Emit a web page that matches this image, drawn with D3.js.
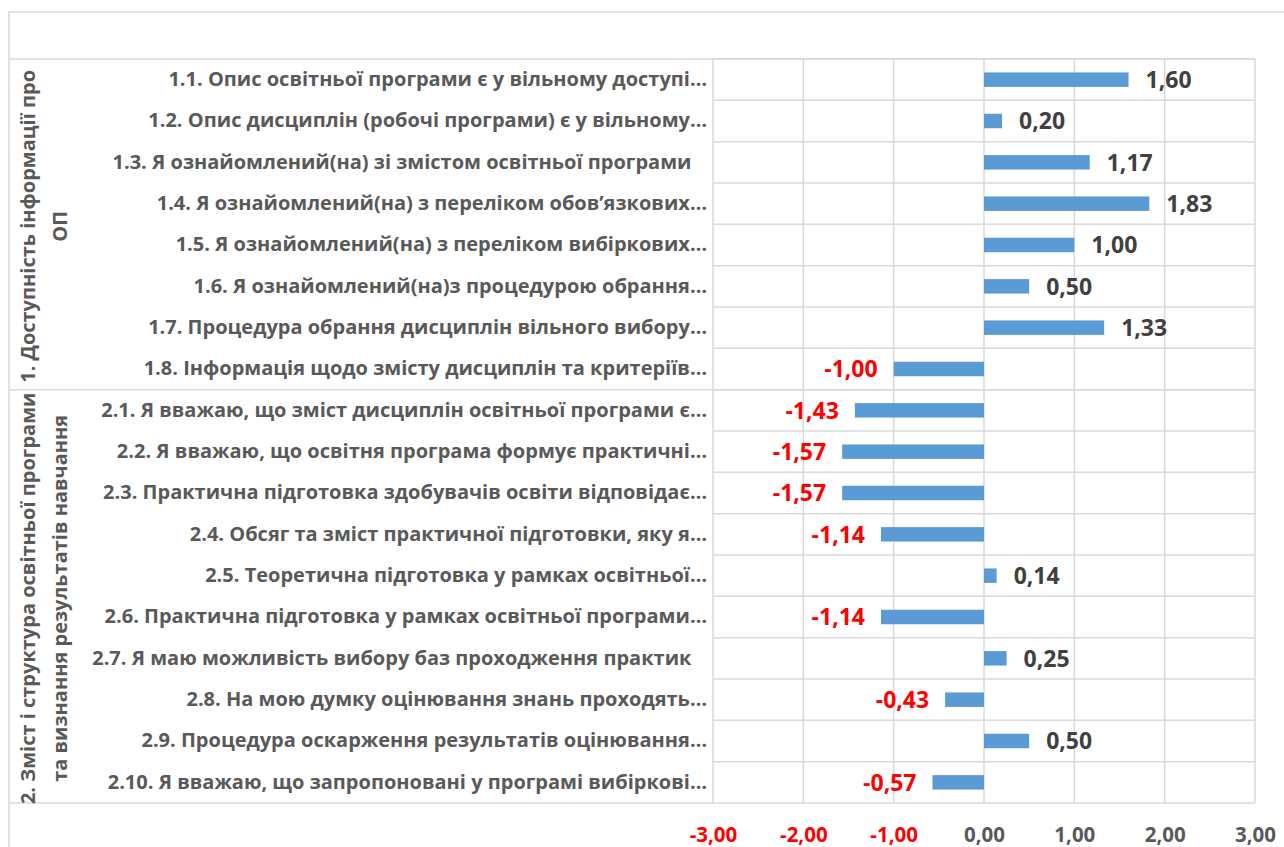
<!DOCTYPE html>
<html>
<head>
<meta charset="utf-8">
<script src="https://cdn.jsdelivr.net/npm/d3@7"></script>
<style>
  body { margin: 0; background: #fff; }
  text { font-family: "Open Sans", sans-serif; font-weight: bold; }
</style>
</head>
<body>
<div id="chart"></div>
<script>
// Category labels (as truncated in the picture)
const categories = [
  "1.1. Опис освітньої програми є у вільному доступі…",
  "1.2. Опис дисциплін (робочі програми) є у вільному…",
  "1.3. Я ознайомлений(на) зі змістом освітньої програми   ",
  "1.4. Я ознайомлений(на) з переліком обов’язкових…",
  "1.5. Я ознайомлений(на) з переліком вибіркових…",
  "1.6. Я ознайомлений(на)з процедурою обрання…",
  "1.7. Процедура обрання дисциплін вільного вибору…",
  "1.8. Інформація щодо змісту дисциплін та критеріїв…",
  "2.1. Я вважаю, що зміст дисциплін освітньої програми є…",
  "2.2. Я вважаю, що освітня програма формує практичні…",
  "2.3. Практична підготовка здобувачів освіти відповідає…",
  "2.4. Обсяг та зміст практичної підготовки, яку я…",
  "2.5. Теоретична підготовка у рамках освітньої…",
  "2.6. Практична підготовка у рамках освітньої програми…",
  "2.7. Я маю можливість вибору баз проходження практик   ",
  "2.8. На мою думку оцінювання знань проходять…",
  "2.9. Процедура оскарження результатів оцінювання…",
  "2.10. Я вважаю, що запропоновані у програмі вибіркові…"
]

const values = [1.60, 0.20, 1.17, 1.83, 1.00, 0.50, 1.33, -1.00,
  -1.43, -1.57, -1.57, -1.14, 0.14, -1.14, 0.25, -0.43, 0.50, -0.57]

// Outer category level
const groupNames = [
  ["1. Доступність інформації про", "ОП"],
  ["2. Зміст і структура освітньої програми", "та визнання результатів навчання"]
]
const groupSizes = [8, 10]

const ticks = [-3, -2, -1, 0, 1, 2, 3]

const W = 1284, H = 847
const plot = { left: 713, right: 1255, top: 59, bottom: 803 }
const frame = { left: 9, top: 12 }

const fmt = v => (v < 0 ? "-" : "") + Math.abs(v).toFixed(2).replace(".", ",")

const svg = d3.select("#chart").append("svg")
    .attr("width", W)
    .attr("height", H)

const x = d3.scaleLinear()
  .domain([-3, 3])
  .range([plot.left, plot.right])

const y = d3.scaleBand()
  .domain(categories)
  .range([plot.top, plot.bottom])
  .paddingInner(0.65)
  .paddingOuter(0.325)

const grid = "#d9d9d9"

// chart frame (cropped on right and bottom)
svg.append("path")
  .attr("d", `M${frame.left},${H} V${frame.top} H${W}`)
  .attr("fill", "none")
  .attr("stroke", grid)
  .attr("stroke-width", 1.5)

// horizontal lines between categories inside plot
const step = y.step()
svg.append("g").selectAll("line")
  .data(categories)
  .join("line")
  .attr("x1", plot.left).attr("x2", plot.right)
  .attr("y1", d => y(d) - y.paddingOuter() * step)
  .attr("y2", d => y(d) - y.paddingOuter() * step)
  .attr("stroke", grid)
  .attr("stroke-width", 1.5)

// vertical gridlines
svg.append("g").selectAll("line")
  .data(ticks)
  .join("line")
  .attr("x1", d => x(d)).attr("x2", d => x(d))
  .attr("y1", plot.top).attr("y2", plot.bottom)
  .attr("stroke", grid)
  .attr("stroke-width", 1.5)

// group boundaries spanning label area
let bounds = [0]
groupSizes.forEach(n => bounds.push(bounds[bounds.length - 1] + n))
const rowY = i => plot.top + i * step
svg.append("g").selectAll("line")
  .data(bounds)
  .join("line")
  .attr("x1", frame.left).attr("x2", plot.right)
  .attr("y1", d => rowY(d)).attr("y2", d => rowY(d))
  .attr("stroke", grid)
  .attr("stroke-width", 1.5)

// bars
svg.append("g").selectAll("rect")
  .data(values)
  .join("rect")
  .attr("x", d => x(Math.min(0, d)))
  .attr("width", d => Math.abs(x(d) - x(0)))
  .attr("y", (d, i) => y(categories[i]))
  .attr("height", y.bandwidth())
  .attr("fill", "#5b9bd5")

// data labels
svg.append("g").selectAll("text")
  .data(values)
  .join("text")
  .attr("x", d => d < 0 ? x(d) - 16 : x(d) + 17)
  .attr("y", (d, i) => y(categories[i]) + y.bandwidth() / 2)
  .attr("dy", "0.36em")
  .attr("text-anchor", d => d < 0 ? "end" : "start")
  .attr("fill", d => d < 0 ? "#ff0000" : "#404040")
  .style("font-size", "23px")
  .text(fmt)

// category labels
const yAxis = svg.append("g")
  .attr("transform", `translate(${plot.left},0)`)
  .call(d3.axisLeft(y).tickSize(0).tickPadding(6))
yAxis.select(".domain").remove()
yAxis.selectAll("text")
  .attr("fill", "#595959")
  .style("font-size", "20px")
  .style("font-family", "'Open Sans', sans-serif")
  .style("white-space", "pre")

// x axis labels
const xAxis = svg.append("g")
  .attr("transform", `translate(0,${plot.bottom})`)
  .call(d3.axisBottom(x).tickValues(ticks).tickSize(0).tickPadding(24).tickFormat(fmt))
xAxis.select(".domain").remove()
xAxis.selectAll("text")
  .attr("fill", d => d < 0 ? "#ff0000" : "#595959")
  .style("font-size", "20.5px")
  .style("font-weight", "bold")
  .style("font-family", "'Open Sans', sans-serif")

// outer group labels, rotated
groupNames.forEach((lines, gi) => {
  const cy = (rowY(bounds[gi]) + rowY(bounds[gi + 1])) / 2
  const t = svg.append("text")
    .attr("transform", `translate(28,${cy + 2}) rotate(-90)`)
    .attr("text-anchor", "middle")
    .attr("fill", "#595959")
    .style("font-size", "20px")
  lines.forEach((s, li) => {
    t.append("tspan")
      .attr("x", 0)
      .attr("dy", li === 0 ? "0.36em" : "1.6em")
      .text(s)
  })
})
</script>
</body>
</html>
